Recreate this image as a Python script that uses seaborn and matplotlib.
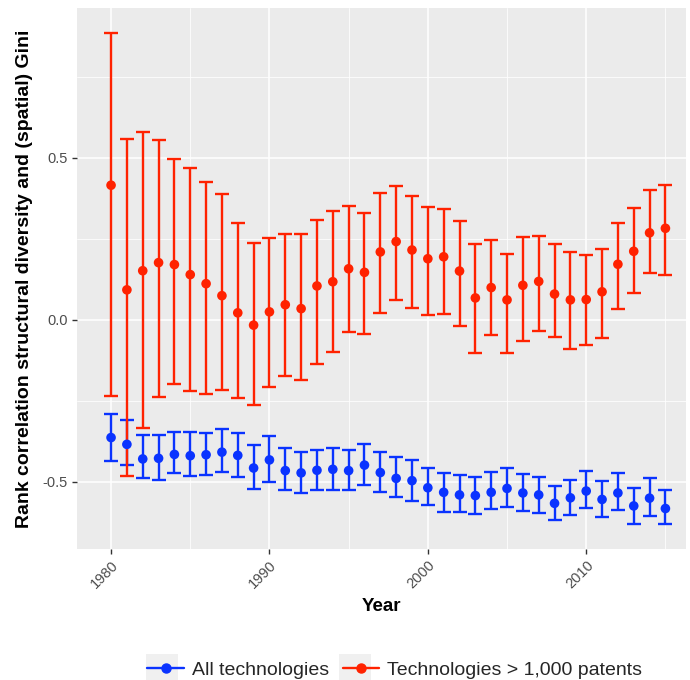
import numpy as np
import pandas as pd
import seaborn as sns
import matplotlib
matplotlib.use("Agg")
import matplotlib.pyplot as plt
from matplotlib.lines import Line2D
from matplotlib.patches import Rectangle

years = list(range(1980, 2016))

all_mean = [-0.363, -0.384, -0.429, -0.427, -0.415, -0.419, -0.416, -0.408, -0.418, -0.457,
            -0.432, -0.465, -0.472, -0.464, -0.461, -0.465, -0.448, -0.471, -0.489, -0.496,
            -0.518, -0.532, -0.540, -0.542, -0.532, -0.520, -0.534, -0.540, -0.566, -0.549,
            -0.528, -0.554, -0.534, -0.574, -0.550, -0.582]
all_upper = [-0.290, -0.308, -0.356, -0.356, -0.347, -0.347, -0.348, -0.338, -0.348, -0.387,
             -0.358, -0.395, -0.409, -0.400, -0.394, -0.401, -0.382, -0.409, -0.423, -0.433,
             -0.457, -0.472, -0.480, -0.484, -0.468, -0.457, -0.476, -0.484, -0.511, -0.494,
             -0.467, -0.497, -0.471, -0.518, -0.487, -0.526]
all_lower = [-0.435, -0.449, -0.489, -0.493, -0.473, -0.482, -0.478, -0.469, -0.486, -0.521,
             -0.501, -0.526, -0.534, -0.524, -0.525, -0.526, -0.509, -0.530, -0.548, -0.558,
             -0.572, -0.592, -0.594, -0.600, -0.585, -0.576, -0.590, -0.596, -0.619, -0.601,
             -0.581, -0.609, -0.587, -0.630, -0.605, -0.631]

big_mean = [0.416, 0.093, 0.152, 0.177, 0.171, 0.140, 0.112, 0.075, 0.022, -0.016,
            0.025, 0.047, 0.035, 0.105, 0.118, 0.158, 0.147, 0.210, 0.242, 0.216,
            0.189, 0.195, 0.151, 0.068, 0.100, 0.062, 0.107, 0.119, 0.080, 0.062,
            0.063, 0.087, 0.172, 0.212, 0.269, 0.283]
big_upper = [0.885, 0.559, 0.581, 0.556, 0.497, 0.469, 0.425, 0.388, 0.298, 0.239,
             0.252, 0.264, 0.264, 0.308, 0.335, 0.352, 0.330, 0.393, 0.412, 0.383,
             0.348, 0.344, 0.304, 0.234, 0.247, 0.204, 0.257, 0.259, 0.233, 0.211,
             0.202, 0.218, 0.300, 0.346, 0.400, 0.416]
big_lower = [-0.236, -0.482, -0.333, -0.239, -0.199, -0.220, -0.230, -0.217, -0.242, -0.261,
             -0.208, -0.174, -0.186, -0.137, -0.099, -0.036, -0.044, 0.020, 0.061, 0.038,
             0.016, 0.018, -0.018, -0.101, -0.047, -0.101, -0.066, -0.033, -0.054, -0.089,
             -0.077, -0.057, 0.034, 0.083, 0.145, 0.139]

series_names = ["All technologies", "Technologies > 1,000 patents"]
colors = ["#0A33FF", "#FF2200"]
x_ticks = [1980, 1990, 2000, 2010]
y_ticks = [-0.5, 0.0, 0.5]

df = pd.concat([
    pd.DataFrame({"Year": years, "value": all_mean, "lo": all_lower, "hi": all_upper,
                  "group": series_names[0]}),
    pd.DataFrame({"Year": years, "value": big_mean, "lo": big_lower, "hi": big_upper,
                  "group": series_names[1]}),
])

sns.set_theme(style="darkgrid")
plt.rcParams["font.family"] = ["Liberation Sans", "DejaVu Sans"]

fig = plt.figure(figsize=(6.9, 6.8), dpi=100)
ax = fig.add_axes([77 / 690, 1 - 549 / 680, (686 - 77) / 690, (549 - 8) / 680])
ax.set_facecolor("#EBEBEB")

for name, col in zip(series_names, colors):
    d = df[df["group"] == name]
    ax.errorbar(d["Year"], d["value"],
                yerr=[d["value"] - d["lo"], d["hi"] - d["value"]],
                fmt="none", ecolor=col, elinewidth=1.7, capsize=5, capthick=1.7, zorder=3)

sns.scatterplot(data=df, x="Year", y="value", hue="group", palette=colors,
                hue_order=series_names, s=48, edgecolor="none", linewidth=0,
                ax=ax, legend=False, zorder=4)

ax.set_xlim(1977.85, 2016.3)
ax.set_ylim(-0.707, 0.963)
ax.set_xticks(x_ticks)
ax.set_xticks([1985, 1995, 2005, 2015], minor=True)
ax.set_yticks(y_ticks)
ax.set_yticks([-0.25, 0.25, 0.75], minor=True)
ax.set_yticklabels(["-0.5", "0.0", "0.5"])
ax.set_xticklabels([str(v) for v in x_ticks], rotation=45, ha="right", rotation_mode="anchor")
ax.grid(which="major", color="white", linewidth=1.1)
ax.grid(which="minor", color="white", linewidth=0.55)
ax.set_axisbelow(True)
for s in ax.spines.values():
    s.set_visible(False)
ax.tick_params(axis="both", which="major", length=3.5, width=1, color="#333333",
               labelsize=10.5, labelcolor="#4D4D4D", pad=3, bottom=True, left=True)
ax.tick_params(axis="both", which="minor", length=0)
ax.set_xlabel("Year", fontsize=13.5, fontweight="bold", color="black", labelpad=5)
ax.set_ylabel("Rank correlation structural diversity and (spatial) Gini",
              fontsize=14, fontweight="bold", color="black", labelpad=7)

handles = [Line2D([0], [0], color=c, lw=1.7, marker="o", markersize=6.5) for c in colors]
leg = fig.legend(handles, series_names, loc="center", bbox_to_anchor=(0.572, 1 - 670 / 680),
                 ncol=2, frameon=False, fontsize=14, handlelength=1.9, handletextpad=0.4,
                 columnspacing=0.7)
for w, x0 in [(32, 146), (32, 339)]:
    fig.patches.append(Rectangle((x0 / 690, 0), w / 690, (680 - 654) / 680,
                                 transform=fig.transFigure, facecolor="#F0F0F0",
                                 edgecolor="none", zorder=0))

fig.savefig("out.png", dpi=100, facecolor="white")
